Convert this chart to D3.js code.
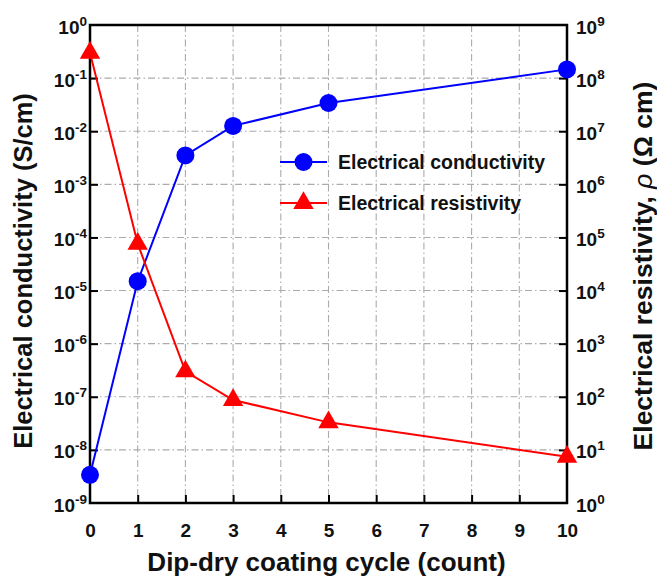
<!DOCTYPE html>
<html>
<head>
<meta charset="utf-8">
<script src="https://cdn.jsdelivr.net/npm/d3@7"></script>
<style>
  body { margin: 0; background: #fff; }
  svg { display: block; font-family: "Liberation Sans", Arial, sans-serif; font-weight: bold; }
</style>
</head>
<body>
<svg id="chart" width="657" height="579"></svg>
<script>
// Coating cycles and measured properties
const cycles = [0, 1, 2, 3, 5, 10];
const conductivity = [3.4e-9, 1.5e-5, 3.5e-3, 1.26e-2, 3.4e-2, 0.146];   // S/cm
const resistivity = [3.0e8, 7.6e4, 300, 87, 33, 7.4];                  // Ω cm
const xTicks = [0, 1, 2, 3, 4, 5, 6, 7, 8, 9, 10];
const leftExponents = [0, -1, -2, -3, -4, -5, -6, -7, -8, -9];
const rightExponents = [9, 8, 7, 6, 5, 4, 3, 2, 1, 0];
const legendLabels = ["Electrical conductivity", "Electrical resistivity"];

const W = 657, H = 579;
const plot = { left: 90, top: 25, right: 567, bottom: 503 };

const svg = d3.select("#chart");

const x = d3.scaleLinear().domain([0, 10]).range([plot.left, plot.right]);
const yL = d3.scaleLog().domain([1e-9, 1]).range([plot.bottom, plot.top]);
const yR = d3.scaleLog().domain([1, 1e9]).range([plot.bottom, plot.top]);

// Grid lines (dash-dot)
const grid = svg.append("g").attr("stroke", "#ababab").attr("stroke-width", 1.1)
  .attr("stroke-dasharray", "7,3,1.5,3").attr("fill", "none");
grid.selectAll("line.v").data(xTicks.slice(1, -1)).join("line")
  .attr("x1", d => x(d)).attr("x2", d => x(d))
  .attr("y1", plot.top).attr("y2", plot.bottom);
grid.selectAll("line.h").data(leftExponents.slice(1, -1)).join("line")
  .attr("x1", plot.left).attr("x2", plot.right)
  .attr("y1", d => yL(Math.pow(10, d))).attr("y2", d => yL(Math.pow(10, d)));

// Helper: superscript power-of-ten labels
function powerLabel(sel) {
  sel.selectAll(".tick text").each(function(d) {
    const t = d3.select(this);
    const e = Math.round(Math.log10(d));
    t.text(null);
    t.append("tspan").text("10").attr("font-size", 19);
    t.append("tspan").text(String(e)).attr("font-size", 13.5).attr("dy", -8);
  });
}

// Left axis
const axL = svg.append("g").attr("transform", `translate(${plot.left},0)`)
  .call(d3.axisLeft(yL).tickValues(leftExponents.map(e => Math.pow(10, e)))
    .tickSizeInner(-8).tickSizeOuter(0).tickPadding(3));
axL.call(powerLabel);
axL.selectAll(".tick text").attr("dy", "0.5em");

// Right axis
const axR = svg.append("g").attr("transform", `translate(${plot.right},0)`)
  .call(d3.axisRight(yR).tickValues(rightExponents.map(e => Math.pow(10, e)))
    .tickSizeInner(-8).tickSizeOuter(0).tickPadding(9));
axR.call(powerLabel);
axR.selectAll(".tick text").attr("dy", "0.5em");

// Bottom axis
const axB = svg.append("g").attr("transform", `translate(0,${plot.bottom})`)
  .call(d3.axisBottom(x).tickValues(xTicks).tickFormat(d3.format("d"))
    .tickSizeInner(-8).tickSizeOuter(0).tickPadding(21));
axB.selectAll(".tick text").attr("font-size", 19).attr("dy", "0.71em");

[axL, axR, axB].forEach(a => {
  a.attr("font-family", null).attr("font-size", null);
  a.selectAll(".tick text").attr("fill", "#111");
  a.selectAll(".tick line").attr("stroke", "#000").attr("stroke-width", 2);
  a.select(".domain").remove();
});
// Remove end ticks that coincide with the frame
axB.selectAll(".tick line").filter(d => d === 0 || d === 10).remove();
axL.selectAll(".tick line").filter(d => d === 1 || d === 1e-9).remove();
axR.selectAll(".tick line").filter(d => d === 1 || d === 1e9).remove();

// Frame
svg.append("rect").attr("x", plot.left).attr("y", plot.top)
  .attr("width", plot.right - plot.left).attr("height", plot.bottom - plot.top)
  .attr("fill", "none").attr("stroke", "#000").attr("stroke-width", 2.5);

// Series lines
const lineC = d3.line().x((d, i) => x(cycles[i])).y(d => yL(d));
const lineR = d3.line().x((d, i) => x(cycles[i])).y(d => yR(d));

svg.append("path").datum(conductivity).attr("d", lineC)
  .attr("fill", "none").attr("stroke", "#0000ff").attr("stroke-width", 2);
svg.append("path").datum(resistivity).attr("d", lineR)
  .attr("fill", "none").attr("stroke", "#ff0000").attr("stroke-width", 2);

const tri = d3.symbol().type(d3.symbolTriangle).size(180);

svg.append("g").selectAll("circle").data(conductivity).join("circle")
  .attr("cx", (d, i) => x(cycles[i])).attr("cy", d => yL(d)).attr("r", 9)
  .attr("fill", "#0000ff");
svg.append("g").selectAll("path").data(resistivity).join("path")
  .attr("d", tri)
  .attr("transform", (d, i) => `translate(${x(cycles[i])},${yR(d)})`)
  .attr("fill", "#ff0000");

// Legend
const legend = svg.append("g").attr("transform", "translate(280,0)");
const legY = [162, 203];
legend.append("line").attr("x1", 0).attr("x2", 47).attr("y1", legY[0]).attr("y2", legY[0])
  .attr("stroke", "#0000ff").attr("stroke-width", 2);
legend.append("circle").attr("cx", 23.5).attr("cy", legY[0]).attr("r", 9).attr("fill", "#0000ff");
legend.append("line").attr("x1", 0).attr("x2", 47).attr("y1", legY[1]).attr("y2", legY[1])
  .attr("stroke", "#ff0000").attr("stroke-width", 2);
legend.append("path").attr("d", tri).attr("transform", `translate(23.5,${legY[1]})`).attr("fill", "#ff0000");
legend.selectAll("text").data(legendLabels).join("text")
  .attr("x", 58).attr("y", (d, i) => legY[i]).attr("dy", "0.36em")
  .attr("font-size", 19.5).attr("fill", "#111").text(d => d);

// Axis titles
svg.append("text").attr("x", (plot.left + plot.right) / 2 - 2).attr("y", 571)
  .attr("text-anchor", "middle").attr("font-size", 26).attr("fill", "#111")
  .text("Dip-dry coating cycle (count)");

svg.append("text").attr("transform", `translate(32,271) rotate(-90)`)
  .attr("text-anchor", "middle").attr("font-size", 25.5).attr("fill", "#111")
  .text("Electrical conductivity (S/cm)");

const rt = svg.append("text").attr("transform", `translate(652,266) rotate(-90)`)
  .attr("text-anchor", "middle").attr("font-size", 26.5).attr("fill", "#111");
rt.append("tspan").text("Electrical resistivity, ");
rt.append("tspan").text("ρ").attr("font-style", "italic").attr("font-weight", "normal");
rt.append("tspan").text(" (Ω cm)");
</script>
</body>
</html>
